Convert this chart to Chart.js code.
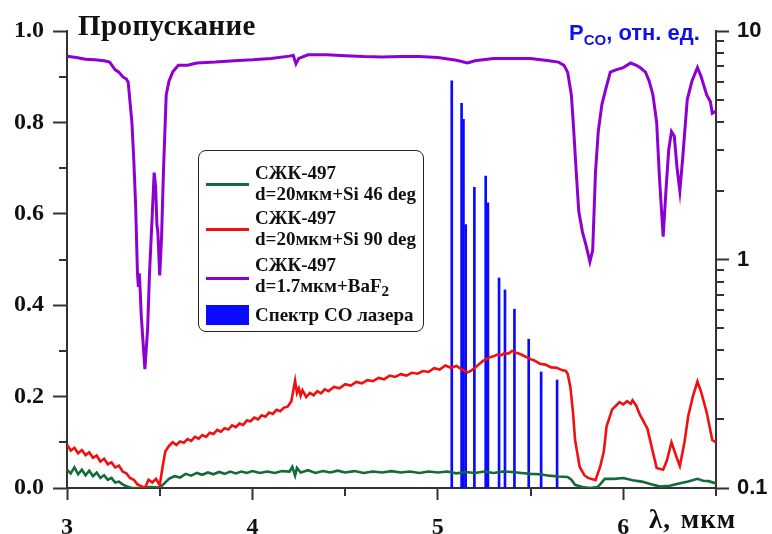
<!DOCTYPE html>
<html>
<head>
<meta charset="utf-8">
<script src="https://cdn.jsdelivr.net/npm/chart.js@4.4.1/dist/chart.umd.min.js"></script>
<style>
  body { margin: 0; background: #fff; }
  #wrap { position: relative; width: 772px; height: 534px; overflow: hidden; }
  .serif { font-family: "Liberation Serif", "Times New Roman", serif; font-weight: bold; color: #111; }
  .sans { font-family: "Liberation Sans", Arial, sans-serif; font-weight: bold; }
  #title { position: absolute; left: 78px; top: 9px; font-size: 29px; line-height: 32px; letter-spacing: 0.4px; white-space: nowrap; }
  #pco { position: absolute; left: 569px; top: 20px; font-size: 22px; line-height: 26px; color: #1010e8; white-space: nowrap; }
  #pco sub { font-size: 15px; vertical-align: -5px; }
  #xlab { position: absolute; left: 649px; top: 504px; font-size: 27px; line-height: 30px; letter-spacing: 1px; word-spacing: 2px; white-space: nowrap; }
  #legend { position: absolute; left: 198px; top: 150px; width: 226px; height: 182px; border: 1.5px solid #222; border-radius: 8px; box-sizing: border-box; }
  #legend .txt { position: absolute; left: 56px; font-size: 19px; line-height: 21px; white-space: nowrap; }
  #legend .ln { position: absolute; left: 7px; width: 43px; height: 3px; }
  #legend .box { position: absolute; left: 7px; width: 43px; height: 20px; background: #0a0aff; }
  #legend sub { font-size: 15px; vertical-align: -4px; line-height: 0; }
</style>
</head>
<body>
<div id="wrap">
  <canvas id="chart" width="772" height="534"></canvas>
  <div id="title" class="serif">Пропускание</div>
  <div id="pco" class="sans">P<sub>CO</sub>, отн. ед.</div>
  <div id="xlab" class="serif">λ, мкм</div>
  <div id="legend" class="serif">
    <div class="ln" style="top:32px;background:#146b3a"></div>
    <div class="txt" style="top:11px">СЖК-497<br>d=20мкм+Si 46 deg</div>
    <div class="ln" style="top:77px;background:#f01010"></div>
    <div class="txt" style="top:56px">СЖК-497<br>d=20мкм+Si 90 deg</div>
    <div class="ln" style="top:126px;background:#8e00d2"></div>
    <div class="txt" style="top:103px">СЖК-497<br>d=1.7мкм+BaF<sub>2</sub></div>
    <div class="box" style="top:154px"></div>
    <div class="txt" style="top:153px">Спектр CO лазера</div>
  </div>
</div>
<script>
// wavelength, um / transmission
const wlGreen = [3.00, 3.02, 3.04, 3.06, 3.08, 3.10, 3.12, 3.14, 3.16, 3.18, 3.20, 3.22, 3.24, 3.26, 3.28, 3.30, 3.32, 3.35, 3.40, 3.45, 3.50, 3.52, 3.55, 3.58, 3.61, 3.64, 3.67, 3.70, 3.73, 3.76, 3.79, 3.82, 3.85, 3.88, 3.91, 3.94, 3.97, 4.00, 4.04, 4.08, 4.12, 4.16, 4.20, 4.215, 4.23, 4.24, 4.26, 4.30, 4.34, 4.38, 4.42, 4.46, 4.50, 4.55, 4.60, 4.65, 4.70, 4.75, 4.80, 4.85, 4.90, 4.95, 5.00, 5.05, 5.10, 5.15, 5.20, 5.25, 5.30, 5.35, 5.40, 5.45, 5.50, 5.55, 5.60, 5.65, 5.70, 5.72, 5.74, 5.78, 5.82, 5.86, 5.88, 5.90, 5.95, 6.00, 6.05, 6.10, 6.15, 6.20, 6.25, 6.30, 6.35, 6.40, 6.43, 6.46, 6.50];
const trGreen = [0.040, 0.032, 0.045, 0.030, 0.040, 0.028, 0.038, 0.026, 0.034, 0.022, 0.028, 0.018, 0.022, 0.012, 0.014, 0.008, 0.004, 0.000, 0.000, 0.002, 0.001, 0.008, 0.020, 0.026, 0.023, 0.031, 0.027, 0.033, 0.029, 0.034, 0.030, 0.035, 0.031, 0.036, 0.032, 0.036, 0.033, 0.037, 0.033, 0.036, 0.033, 0.037, 0.036, 0.046, 0.027, 0.044, 0.034, 0.039, 0.033, 0.037, 0.034, 0.038, 0.034, 0.037, 0.033, 0.036, 0.034, 0.037, 0.034, 0.036, 0.033, 0.036, 0.034, 0.036, 0.032, 0.035, 0.033, 0.036, 0.033, 0.036, 0.035, 0.033, 0.031, 0.030, 0.027, 0.025, 0.024, 0.018, 0.007, 0.002, 0.000, 0.002, 0.010, 0.020, 0.020, 0.022, 0.017, 0.014, 0.008, 0.003, 0.005, 0.010, 0.014, 0.020, 0.016, 0.015, 0.010];

const wlRed = [3.00, 3.02, 3.04, 3.06, 3.08, 3.10, 3.12, 3.14, 3.16, 3.18, 3.20, 3.22, 3.24, 3.26, 3.28, 3.30, 3.32, 3.34, 3.36, 3.38, 3.40, 3.42, 3.44, 3.46, 3.48, 3.50, 3.515, 3.53, 3.55, 3.57, 3.59, 3.61, 3.63, 3.65, 3.67, 3.69, 3.71, 3.73, 3.75, 3.77, 3.79, 3.81, 3.83, 3.85, 3.87, 3.89, 3.91, 3.93, 3.95, 3.97, 3.99, 4.01, 4.03, 4.05, 4.07, 4.09, 4.11, 4.13, 4.15, 4.17, 4.19, 4.21, 4.23, 4.24, 4.25, 4.26, 4.27, 4.29, 4.31, 4.33, 4.35, 4.37, 4.39, 4.41, 4.44, 4.47, 4.50, 4.53, 4.56, 4.59, 4.62, 4.65, 4.68, 4.71, 4.74, 4.77, 4.80, 4.83, 4.86, 4.89, 4.92, 4.95, 4.98, 5.01, 5.04, 5.07, 5.10, 5.13, 5.16, 5.18, 5.20, 5.22, 5.24, 5.26, 5.28, 5.30, 5.32, 5.34, 5.36, 5.38, 5.40, 5.42, 5.44, 5.46, 5.48, 5.50, 5.52, 5.55, 5.58, 5.61, 5.64, 5.67, 5.69, 5.70, 5.715, 5.73, 5.74, 5.765, 5.79, 5.81, 5.85, 5.875, 5.895, 5.91, 5.94, 5.96, 5.98, 6.00, 6.02, 6.04, 6.05, 6.07, 6.09, 6.13, 6.16, 6.18, 6.215, 6.235, 6.26, 6.285, 6.305, 6.33, 6.35, 6.375, 6.40, 6.42, 6.45, 6.48, 6.50];
const trRed = [0.095, 0.082, 0.088, 0.076, 0.083, 0.072, 0.078, 0.066, 0.071, 0.058, 0.064, 0.052, 0.056, 0.045, 0.049, 0.036, 0.032, 0.022, 0.018, 0.008, 0.004, 0.000, 0.018, 0.012, 0.020, 0.006, 0.045, 0.080, 0.092, 0.100, 0.094, 0.102, 0.099, 0.107, 0.103, 0.112, 0.108, 0.116, 0.112, 0.121, 0.118, 0.127, 0.123, 0.131, 0.128, 0.137, 0.133, 0.141, 0.138, 0.148, 0.146, 0.154, 0.150, 0.159, 0.156, 0.165, 0.162, 0.171, 0.168, 0.176, 0.178, 0.190, 0.235, 0.208, 0.218, 0.202, 0.214, 0.199, 0.208, 0.203, 0.212, 0.207, 0.216, 0.212, 0.221, 0.218, 0.227, 0.224, 0.232, 0.229, 0.236, 0.234, 0.241, 0.238, 0.246, 0.243, 0.249, 0.246, 0.252, 0.250, 0.256, 0.254, 0.262, 0.259, 0.268, 0.263, 0.267, 0.259, 0.253, 0.257, 0.263, 0.270, 0.277, 0.282, 0.286, 0.288, 0.292, 0.290, 0.295, 0.294, 0.300, 0.296, 0.294, 0.290, 0.286, 0.282, 0.279, 0.272, 0.270, 0.264, 0.263, 0.258, 0.256, 0.250, 0.220, 0.160, 0.105, 0.046, 0.028, 0.022, 0.017, 0.046, 0.080, 0.135, 0.172, 0.180, 0.188, 0.183, 0.190, 0.184, 0.192, 0.180, 0.160, 0.130, 0.078, 0.044, 0.040, 0.060, 0.100, 0.070, 0.048, 0.100, 0.157, 0.200, 0.233, 0.210, 0.165, 0.105, 0.100];

const wlViolet = [3.00, 3.05, 3.10, 3.15, 3.20, 3.23, 3.26, 3.28, 3.29, 3.30, 3.32, 3.33, 3.35, 3.36, 3.37, 3.38, 3.385, 3.39, 3.395, 3.40, 3.42, 3.435, 3.445, 3.46, 3.47, 3.478, 3.485, 3.49, 3.50, 3.51, 3.52, 3.535, 3.55, 3.57, 3.60, 3.65, 3.70, 3.80, 3.90, 4.00, 4.10, 4.20, 4.22, 4.235, 4.25, 4.30, 4.40, 4.50, 4.60, 4.70, 4.80, 4.90, 5.00, 5.10, 5.16, 5.20, 5.30, 5.40, 5.50, 5.60, 5.65, 5.68, 5.70, 5.72, 5.73, 5.745, 5.76, 5.78, 5.80, 5.82, 5.835, 5.85, 5.865, 5.885, 5.91, 5.93, 5.96, 6.00, 6.04, 6.07, 6.09, 6.12, 6.14, 6.16, 6.18, 6.195, 6.215, 6.23, 6.245, 6.26, 6.275, 6.29, 6.305, 6.32, 6.345, 6.37, 6.40, 6.42, 6.45, 6.47, 6.48, 6.50];
const trViolet = [0.945, 0.942, 0.938, 0.937, 0.935, 0.932, 0.915, 0.910, 0.905, 0.900, 0.895, 0.888, 0.800, 0.720, 0.620, 0.470, 0.440, 0.470, 0.430, 0.380, 0.260, 0.350, 0.470, 0.600, 0.690, 0.660, 0.575, 0.560, 0.465, 0.550, 0.690, 0.860, 0.890, 0.910, 0.925, 0.925, 0.930, 0.932, 0.935, 0.937, 0.940, 0.945, 0.947, 0.928, 0.940, 0.948, 0.948, 0.946, 0.944, 0.943, 0.944, 0.944, 0.942, 0.936, 0.930, 0.935, 0.940, 0.940, 0.940, 0.935, 0.932, 0.925, 0.910, 0.860, 0.800, 0.700, 0.605, 0.560, 0.530, 0.495, 0.520, 0.690, 0.780, 0.840, 0.880, 0.910, 0.915, 0.920, 0.930, 0.925, 0.920, 0.910, 0.890, 0.860, 0.800, 0.680, 0.550, 0.650, 0.740, 0.780, 0.770, 0.700, 0.650, 0.720, 0.850, 0.890, 0.920, 0.900, 0.860, 0.845, 0.820, 0.825];

// CO laser lines: wavelength, um / relative power
const coLines = [5.075, 5.128, 5.138, 5.150, 5.197, 5.258, 5.270, 5.330, 5.362, 5.413, 5.490, 5.557, 5.643];
const coPower = [6.06, 4.83, 4.11, 1.42, 2.07, 2.32, 1.77, 0.83, 0.736, 0.606, 0.448, 0.322, 0.297];

const xTicks = [3, 4, 5, 6];
const xMinor = [3.5, 4.5, 5.5, 6.5];
const yTicks = [0, 0.2, 0.4, 0.6, 0.8, 1.0];
const yMinor = [0.1, 0.3, 0.5, 0.7, 0.9];
const rTicks = [0.1, 1, 10];
const rMinor = [0.2, 0.3, 0.4, 0.5, 0.6, 0.7, 0.8, 0.9, 2, 3, 4, 5, 6, 7, 8, 9];

const pts = (xs, ys) => xs.map((x, i) => ({ x: x, y: ys[i] }));
const axisColor = '#333';
const serif = '"Liberation Serif", "Times New Roman", serif';
const sans = '"Liberation Sans", Arial, sans-serif';

// short minor ticks, outside the plot
const minorTicks = {
    id: 'minorTicks',
    afterDraw(chart) {
        const { ctx, chartArea: a, scales } = chart;
        ctx.save();
        ctx.strokeStyle = axisColor;
        ctx.lineWidth = 2;
        ctx.beginPath();
        xMinor.forEach(v => {
            const p = Math.round(scales.x.getPixelForValue(v));
            ctx.moveTo(p, a.bottom); ctx.lineTo(p, a.bottom + 8);
        });
        yMinor.forEach(v => {
            const p = Math.round(scales.y.getPixelForValue(v));
            ctx.moveTo(a.left, p); ctx.lineTo(a.left - 8, p);
        });
        rMinor.forEach(v => {
            const p = Math.round(scales.yR.getPixelForValue(v));
            ctx.moveTo(a.right, p); ctx.lineTo(a.right + 8, p);
        });
        ctx.stroke();
        ctx.restore();
    }
};

const ctx = document.getElementById('chart').getContext('2d');
new Chart(ctx, {
    type: 'line',
    data: {
        datasets: [
            {
                type: 'bar',
                label: 'Спектр CO лазера',
                data: pts(coLines, coPower),
                yAxisID: 'yR',
                backgroundColor: '#0a0aff',
                barThickness: 2,
                grouped: false,
                order: 4
            },
            {
                label: 'СЖК-497 d=20мкм+Si 46 deg',
                data: pts(wlGreen, trGreen),
                borderColor: '#146b3a',
                borderWidth: 2.6,
                pointRadius: 0,
                yAxisID: 'y',
                order: 3
            },
            {
                label: 'СЖК-497 d=20мкм+Si 90 deg',
                data: pts(wlRed, trRed),
                borderColor: '#f01010',
                borderWidth: 2.6,
                pointRadius: 0,
                yAxisID: 'y',
                order: 2
            },
            {
                label: 'СЖК-497 d=1.7мкм+BaF2',
                data: pts(wlViolet, trViolet),
                borderColor: '#8e00d2',
                borderWidth: 3,
                pointRadius: 0,
                yAxisID: 'y',
                order: 1
            }
        ]
    },
    options: {
        responsive: false,
        animation: false,
        layout: { padding: { top: 31, left: 0, right: 0, bottom: 0 } },
        plugins: { legend: { display: false }, tooltip: { enabled: false } },
        scales: {
            x: {
                type: 'linear',
                min: 3,
                max: 6.5,
                offset: false,
                afterBuildTicks: s => { s.ticks = xTicks.map(v => ({ value: v })); },
                afterFit: s => { s.height = 46; },
                ticks: {
                    autoSkip: false,
                    maxRotation: 0,
                    padding: 13,
                    color: '#111',
                    font: { family: serif, size: 24, weight: 'bold' }
                },
                grid: { drawOnChartArea: false, tickLength: 12, tickWidth: 2, tickColor: axisColor, offset: false },
                border: { color: axisColor, width: 2 }
            },
            y: {
                position: 'left',
                min: 0,
                max: 1,
                afterBuildTicks: s => { s.ticks = yTicks.map(v => ({ value: v })); },
                afterFit: s => { s.width = 67; },
                ticks: {
                    callback: v => v.toFixed(1),
                    padding: 9,
                    color: '#111',
                    font: { family: serif, size: 24, weight: 'bold' }
                },
                grid: { drawOnChartArea: false, tickLength: 14, tickWidth: 2, tickColor: axisColor },
                border: { color: axisColor, width: 2 }
            },
            yR: {
                type: 'logarithmic',
                position: 'right',
                min: 0.1,
                max: 10,
                afterBuildTicks: s => { s.ticks = rTicks.map(v => ({ value: v })); },
                afterFit: s => { s.width = 56; },
                ticks: {
                    callback: v => String(v),
                    padding: 8,
                    color: '#111',
                    font: { family: sans, size: 22, weight: 'bold' }
                },
                grid: { drawOnChartArea: false, tickLength: 13, tickWidth: 2, tickColor: axisColor },
                border: { color: axisColor, width: 2 }
            }
        }
    },
    plugins: [minorTicks]
});
</script>
</body>
</html>
